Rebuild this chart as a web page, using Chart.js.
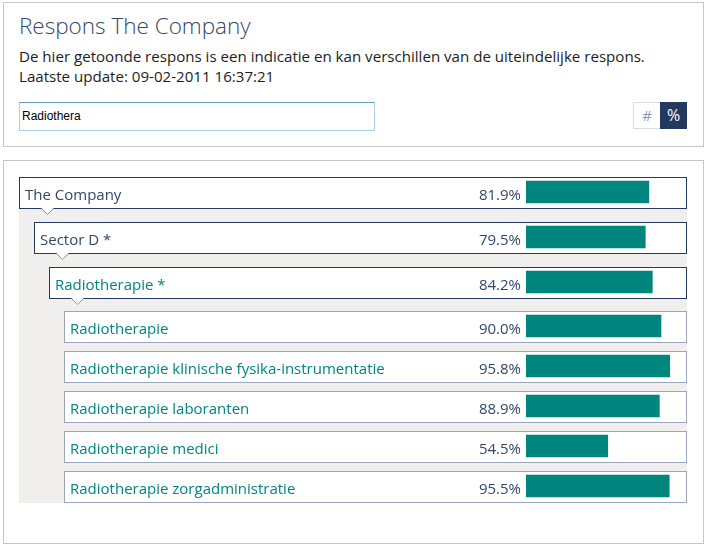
<!DOCTYPE html>
<html lang="nl">
<head>
<meta charset="utf-8">
<title>Respons The Company</title>
<script src="https://cdn.jsdelivr.net/npm/chart.js@4"></script>
<style>
  html, body { margin: 0; background: #fff; }
  body { width: 707px; height: 547px; position: relative; overflow: hidden; font-family: "Open Sans", sans-serif; color: #1c1c1c; }
  .panel { position: absolute; left: 3px; width: 699px; border: 1px solid #c6c6c6; box-sizing: content-box; }
  #top { top: 2px; height: 143px; }
  #bottom { top: 160px; height: 382px; }
  h1 { position: absolute; left: 19px; top: 10px; margin: 0; font-size: 22.5px; font-weight: 300; color: #33476b; white-space: nowrap; }
  .note { position: absolute; left: 19px; font-size: 15.1px; white-space: nowrap; }
  #search { position: absolute; left: 19px; top: 102px; width: 354px; height: 27px; box-sizing: content-box; border: 1px solid #a9cfe6; border-top-color: #6a9cc4; font: 12px "Liberation Sans", sans-serif; line-height: 27px; text-indent: 2px; color: #000; }
  .toggle { position: absolute; top: 102px; width: 26px; height: 25px; line-height: 25px; text-align: center; font-size: 15px; box-sizing: content-box; }
  #count { left: 633px; border: 1px solid #dcdcdc; color: #8a97ad; }
  #pct { left: 660px; width: 27px; height: 27px; line-height: 27px; background: #23395d; color: #fff; font-size: 16px; }
  #band { position: absolute; left: 19px; top: 208px; width: 668px; height: 295px; background: #f1efee; }
  .wrap { position: absolute; left: 19px; width: 669px; }
  #wrapTop { top: 169px; height: 137px; }
  #wrapDetail { top: 306px; height: 200px; }
</style>
</head>
<body>
<div class="panel" id="top"></div>
<h1>Respons The Company</h1>
<div class="note" style="top:46px">De hier getoonde respons is een indicatie en kan verschillen van de uiteindelijke respons.</div>
<div class="note" style="top:66px">Laatste update: 09-02-2011 16:37:21</div>
<div id="search">Radiothera</div>
<div class="toggle" id="count">#</div>
<div class="toggle" id="pct">%</div>

<div class="panel" id="bottom"></div>
<div id="band"></div>
<div class="wrap" id="wrapTop"><canvas id="treeChart"></canvas></div>
<div class="wrap" id="wrapDetail"><canvas id="detailChart"></canvas></div>

<script>
// --- Data ---------------------------------------------------
const treeLabels = ['The Company', 'Sector D *', 'Radiotherapie *'];
const treeValues = [81.9, 79.5, 84.2];
const treeDepths = [0, 1, 2];

const detailLabels = [
  'Radiotherapie',
  'Radiotherapie klinische fysika-instrumentatie',
  'Radiotherapie laboranten',
  'Radiotherapie medici',
  'Radiotherapie zorgadministratie'
];
const detailValues = [90.0, 95.8, 88.9, 54.5, 95.5];
const detailDepths = [3, 3, 3, 3, 3];

const NAVY = '#23395d';
const TEAL = '#00857f';

// Draws the row frames behind the bars and the texts on top of them
function rowsPlugin(depths, withNotch) {
  return {
    id: 'rows',
    beforeDatasetsDraw(chart) {
      const { ctx, scales: { y } } = chart;
      depths.forEach((depth, i) => {
        const c = y.getPixelForValue(i);
        const left = 0.5 + depth * 15;
        const right = 667.5;
        const top = c - 14.5;
        const bottom = c + 16.5;
        const nx = left + 28;
        ctx.save();
        ctx.fillStyle = '#fff';
        ctx.fillRect(left, top, right - left, bottom - top);
        ctx.strokeStyle = depth < 3 ? NAVY : '#9aa6bd';
        ctx.lineWidth = 1;
        ctx.strokeRect(left, top, right - left, bottom - top);
        if (withNotch) {
          ctx.fillStyle = '#fff';
          ctx.beginPath();
          ctx.moveTo(nx - 6, bottom - 0.5);
          ctx.lineTo(nx, bottom + 6);
          ctx.lineTo(nx + 6, bottom - 0.5);
          ctx.closePath();
          ctx.fill();
          ctx.strokeStyle = '#8a93a8';
          ctx.beginPath();
          ctx.moveTo(nx - 6, bottom);
          ctx.lineTo(nx, bottom + 6);
          ctx.lineTo(nx + 6, bottom);
          ctx.stroke();
        }
        ctx.restore();
      });
    },
    afterDatasetsDraw(chart) {
      const { ctx, scales: { y } } = chart;
      const values = chart.data.datasets[0].data;
      ctx.save();
      ctx.font = '15px "Open Sans", sans-serif';
      ctx.textBaseline = 'middle';
      chart.data.labels.forEach((label, i) => {
        const c = y.getPixelForValue(i) + 3.5;
        ctx.textAlign = 'left';
        ctx.fillStyle = depths[i] >= 2 ? TEAL : '#33476b';
        ctx.fillText(label, 6 + depths[i] * 15, c);
        ctx.textAlign = 'right';
        ctx.fillStyle = '#33476b';
        ctx.fillText(values[i].toFixed(1) + '%', 502, c);
      });
      ctx.restore();
    }
  };
}

function buildChart(id, labels, values, depths, withNotch, pad) {
  return new Chart(document.getElementById(id), {
    type: 'bar',
    data: {
      labels: labels,
      datasets: [{
        data: values,
        backgroundColor: TEAL,
        barThickness: 22
      }]
    },
    options: {
      indexAxis: 'y',
      responsive: true,
      maintainAspectRatio: false,
      animation: false,
      events: [],
      layout: { padding: { left: 507, right: 12, top: pad.top, bottom: pad.bottom } },
      plugins: { legend: { display: false }, tooltip: { enabled: false } },
      scales: {
        x: { display: false, min: 0, max: 100 },
        y: { display: false }
      }
    },
    plugins: [rowsPlugin(depths, withNotch)]
  });
}

buildChart('treeChart', treeLabels, treeValues, treeDepths, true, { top: 0.5, bottom: 1.5 });
buildChart('detailChart', detailLabels, detailValues, detailDepths, false, { top: 0, bottom: 0 });
</script>
</body>
</html>
